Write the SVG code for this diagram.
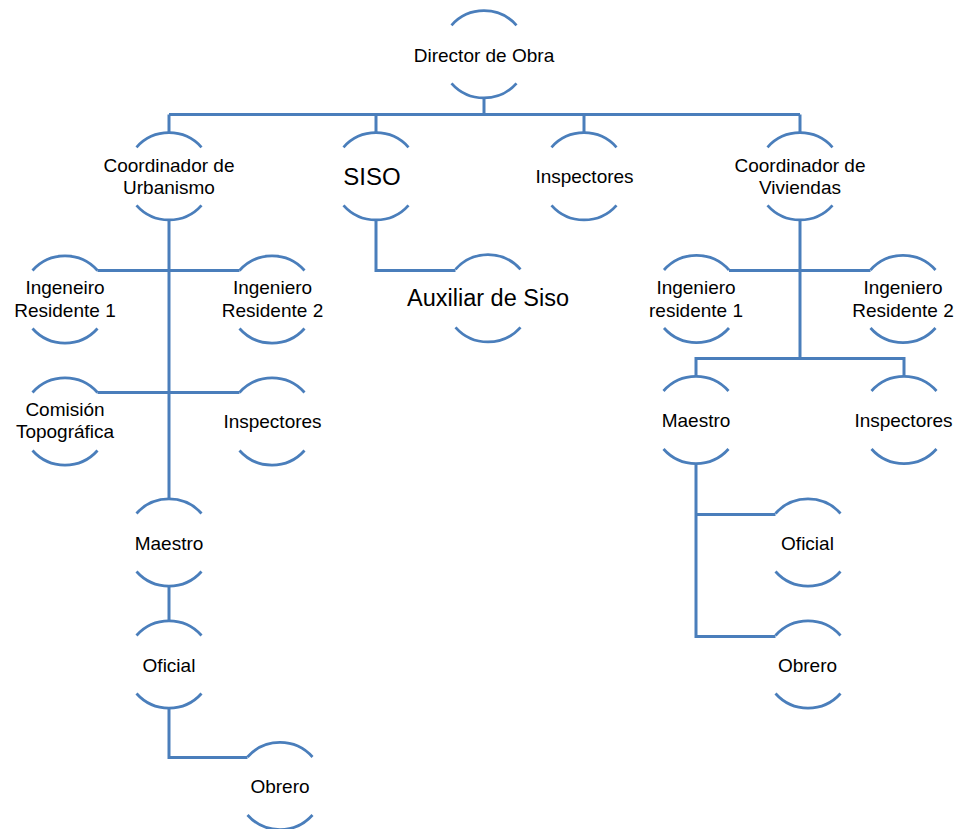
<svg xmlns="http://www.w3.org/2000/svg" xmlns:xlink="http://www.w3.org/1999/xlink" width="969" height="829" viewBox="0 0 969 829">
<style>
  .arc { fill: none; stroke: #4a7ebb; stroke-width: 2.75; }
  .conn { fill: none; stroke: #4a7ebb; stroke-width: 3; stroke-linejoin: miter; }
  text { font-family: "Liberation Sans", Arial, sans-serif; font-size: 19px; fill: #000; text-anchor: middle; }
  .big { font-size: 24px; }
  .big2 { font-size: 23.5px; }
</style>
<defs>
  <g id="ring">
    <path class="arc" d="M -32.5 -29 A 43.5 43.5 0 0 1 32.5 -29"/>
    <path class="arc" d="M -32.5 29 A 43.5 43.5 0 0 0 32.5 29"/>
  </g>
</defs>
<rect width="969" height="829" fill="#ffffff"/>

<g id="connectors">
  <polyline class="conn" points="484,97.5 484,114.5"/>
  <polyline class="conn" points="169,114.5 800,114.5"/>
  <polyline class="conn" points="169,114.5 169,133"/>
  <polyline class="conn" points="376,114.5 376,133"/>
  <polyline class="conn" points="584,114.5 584,133"/>
  <polyline class="conn" points="800,114.5 800,133"/>
  <!-- Urbanismo -->
  <polyline class="conn" points="169,219.5 169,499.5"/>
  <polyline class="conn" points="97.5,270.5 239.5,270.5"/>
  <polyline class="conn" points="97.5,392.5 239.5,392.5"/>
  <polyline class="conn" points="169,585.5 169,621"/>
  <polyline class="conn" points="169,707.5 169,757.5 247.5,757.5"/>
  <!-- SISO -->
  <polyline class="conn" points="376,219.5 376,270.5 455.5,270.5"/>
  <!-- Viviendas -->
  <polyline class="conn" points="800,219.5 800,358.5"/>
  <polyline class="conn" points="729,270.5 870.5,270.5"/>
  <polyline class="conn" points="696,377 696,358.5 904,358.5 904,377"/>
  <polyline class="conn" points="696,463.5 696,636.5 775.5,636.5"/>
  <polyline class="conn" points="696,514.5 775.5,514.5"/>
</g>

<g id="director">
  <use href="#ring" xlink:href="#ring" x="484" y="54.3"/>
  <text x="484" y="61.5">Director de Obra</text>
</g>
<g id="coord-urbanismo">
  <use href="#ring" xlink:href="#ring" x="169" y="176.3"/>
  <text x="169" y="171.5">Coordinador de</text>
  <text x="169" y="194">Urbanismo</text>
</g>
<g id="siso">
  <use href="#ring" xlink:href="#ring" x="376" y="176.3"/>
  <text class="big" x="372" y="185">SISO</text>
</g>
<g id="inspectores-top">
  <use href="#ring" xlink:href="#ring" x="584" y="176.3"/>
  <text x="584.5" y="183.3">Inspectores</text>
</g>
<g id="coord-viviendas">
  <use href="#ring" xlink:href="#ring" x="800" y="176.3"/>
  <text x="800" y="171.5">Coordinador de</text>
  <text x="800" y="194">Viviendas</text>
</g>
<g id="auxiliar-siso">
  <use href="#ring" xlink:href="#ring" x="488" y="298.3"/>
  <text class="big2" x="488" y="305.5">Auxiliar de Siso</text>
</g>
<g id="ing-res-1-urb">
  <use href="#ring" xlink:href="#ring" x="65" y="299.5"/>
  <text x="65" y="293.5">Ingeneiro</text>
  <text x="65" y="316.5">Residente 1</text>
</g>
<g id="ing-res-2-urb">
  <use href="#ring" xlink:href="#ring" x="272" y="299.5"/>
  <text x="272.5" y="293.5">Ingeniero</text>
  <text x="272.5" y="316.5">Residente 2</text>
</g>
<g id="comision-topografica">
  <use href="#ring" xlink:href="#ring" x="65" y="421.5"/>
  <text x="65" y="415.5">Comisión</text>
  <text x="65" y="437.5">Topográfica</text>
</g>
<g id="inspectores-urb">
  <use href="#ring" xlink:href="#ring" x="272" y="421.5"/>
  <text x="272.5" y="427.5">Inspectores</text>
</g>
<g id="maestro-urb">
  <use href="#ring" xlink:href="#ring" x="169" y="542.5"/>
  <text x="169" y="549.5">Maestro</text>
</g>
<g id="oficial-urb">
  <use href="#ring" xlink:href="#ring" x="169" y="664.5"/>
  <text x="169" y="671.5">Oficial</text>
</g>
<g id="obrero-urb">
  <use href="#ring" xlink:href="#ring" x="280" y="786"/>
  <text x="280" y="793">Obrero</text>
</g>
<g id="ing-res-1-viv">
  <use href="#ring" xlink:href="#ring" x="696.5" y="299"/>
  <text x="696" y="293.5">Ingeniero</text>
  <text x="696" y="316.5">residente 1</text>
</g>
<g id="ing-res-2-viv">
  <use href="#ring" xlink:href="#ring" x="903" y="299"/>
  <text x="903" y="293.5">Ingeniero</text>
  <text x="903" y="316.5">Residente 2</text>
</g>
<g id="maestro-viv">
  <use href="#ring" xlink:href="#ring" x="696" y="420"/>
  <text x="696" y="427">Maestro</text>
</g>
<g id="inspectores-viv">
  <use href="#ring" xlink:href="#ring" x="904" y="420"/>
  <text x="903.5" y="427">Inspectores</text>
</g>
<g id="oficial-viv">
  <use href="#ring" xlink:href="#ring" x="808" y="542.5"/>
  <text x="807.5" y="549.5">Oficial</text>
</g>
<g id="obrero-viv">
  <use href="#ring" xlink:href="#ring" x="808" y="664.5"/>
  <text x="807.5" y="671.5">Obrero</text>
</g>
</svg>
